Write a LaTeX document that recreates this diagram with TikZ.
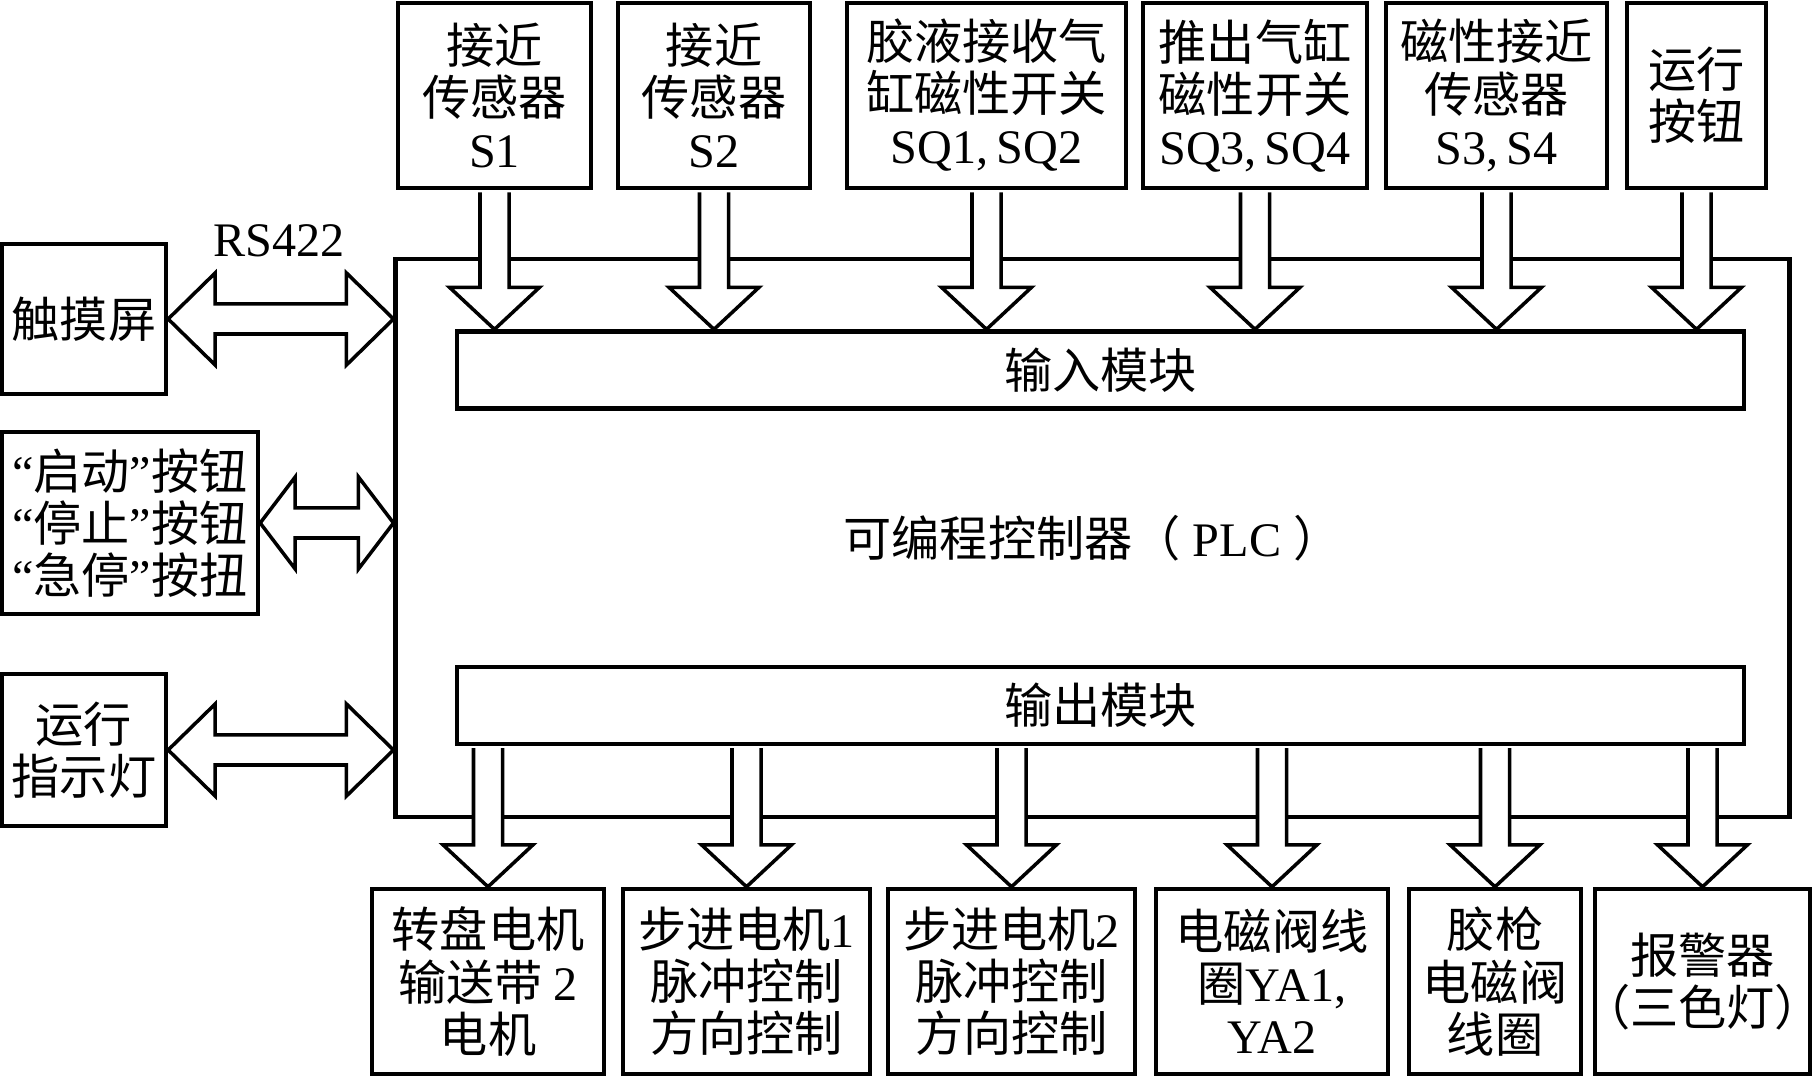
\documentclass[tikz,border=0pt]{standalone}
\usepackage{fontspec}
\setmainfont{Liberation Serif}
\newfontfamily\cjk{Noto Sans CJK SC}
\usetikzlibrary{calc}
\newcommand{\lat}[1]{{\rmfamily #1}}
\newcommand{\quoted}[1]{\lat{“}#1\lat{”}}
\tikzset{every node/.style={rectangle,draw,line width=1.2pt,inner sep=0pt,align=center}}
\tikzset{bx/.style={minimum height=1.85cm}}
\tikzset{md/.style={minimum width=12.87cm,minimum height=0.77cm}}
\tikzset{t/.style={draw=none}}
\tikzset{dn/.style={draw,fill=white,line width=1pt,to path={let \p1=(\tikztostart),\p2=(\tikztotarget) in
  (\x1-0.145cm,\y1-0.6pt) -- (\x1-0.145cm,\y2+0.42cm) -- (\x1-0.45cm,\y2+0.42cm) -- (\x1,\y2)
  -- (\x1+0.45cm,\y2+0.42cm) -- (\x1+0.145cm,\y2+0.42cm) -- (\x1+0.145cm,\y1-0.6pt)}}}
\tikzset{lr/.style={draw,fill=white,line width=1pt,to path={let \p1=(\tikztostart),\p2=(\tikztotarget) in
  (\x1,\y1) -- (\x1+#1,\y1+0.46cm) -- (\x1+#1,\y1+0.15cm) -- (\x2-#1,\y1+0.15cm) -- (\x2-#1,\y1+0.46cm)
  -- (\x2,\y1) -- (\x2-#1,\y1-0.46cm) -- (\x2-#1,\y1-0.15cm) -- (\x1+#1,\y1-0.15cm) -- (\x1+#1,\y1-0.46cm) -- cycle}},
  lr/.default=0.47cm}

\begin{document}
\begin{tikzpicture}[x=0.01cm,y=-0.01cm,font=\cjk\fontsize{13.7pt}{14.8pt}\selectfont]
  \useasboundingbox (0,0) rectangle (1814,1077);
  % controller
  \node[minimum width=13.93cm,minimum height=5.58cm] (plc) at (1092.5,538) {可编程控制器（\lat{\ PLC\ }）};
  \node[md] (in) at (1100.5,370) {输入模块};
  \node[md] (out) at (1100.5,705.5) {输出模块};
  % inputs
  \node[bx,minimum width=1.93cm] (s1) at (494.5,95.5) {接近\\传感器\\\lat{S1}};
  \node[bx,minimum width=1.92cm] (s2) at (714,95.5) {接近\\传感器\\\lat{S2}};
  \node[bx,minimum width=2.79cm] (sq12) at (986.5,95.5) {胶液接收气\\缸磁性开关\\\lat{SQ1,\,SQ2}};
  \node[bx,minimum width=2.24cm] (sq34) at (1255,95.5) {推出气缸\\磁性开关\\\lat{SQ3,\,SQ4}};
  \node[bx,minimum width=2.21cm] (s34) at (1496.5,95.5) {磁性接近\\传感器\\\lat{S3,\,S4}};
  \node[bx,minimum width=1.39cm] (run) at (1696.5,95.5) {运行\\按钮};
  % outputs
  \node[bx,minimum width=2.32cm] (m1) at (488,981.5) {转盘电机\\输送带 \lat{2}\\电机};
  \node[bx,minimum width=2.47cm] (m2) at (746.5,981.5) {步进电机\lat{1}\\脉冲控制\\方向控制};
  \node[bx,minimum width=2.47cm] (m3) at (1011.5,981.5) {步进电机\lat{2}\\脉冲控制\\方向控制};
  \node[bx,minimum width=2.32cm] (ya) at (1272,981.5) {电磁阀线\\圈\lat{YA1,}\\\lat{YA2}};
  \node[bx,minimum width=1.72cm] (gun) at (1495,981.5) {胶枪\\电磁阀\\线圈};
  \node[bx,minimum width=2.15cm] (alarm) at (1702.5,981.5) {报警器\\\makebox[1.95cm]{（三色灯）}};
  % left side
  \node[minimum width=1.64cm,minimum height=1.5cm] (touch) at (84,319) {触摸屏};
  \node[minimum width=2.56cm,minimum height=1.82cm] (keys) at (130,523) {\quoted{启动}按钮\\\quoted{停止}按钮\\\quoted{急停}按扭};
  \node[minimum width=1.64cm,minimum height=1.52cm] (lamp) at (84,750) {运行\\指示灯};
  \node[t] (rs) at (279,241) {\lat{RS422}};
  % arrows
  \draw[lr] (touch.east) to (plc.west);
  \draw[lr=0.35cm] (keys.east) to (plc.west);
  \draw[lr] (lamp.east) to (plc.west);
  \draw[dn] (s1.south) to (in.north);
  \draw[dn] (s2.south) to (in.north);
  \draw[dn] (sq12.south) to (in.north);
  \draw[dn] (sq34.south) to (in.north);
  \draw[dn] (s34.south) to (in.north);
  \draw[dn] (run.south) to (in.north);
  \draw[dn] (m1.north |- out.south) to (m1.north);
  \draw[dn] (m2.north |- out.south) to (m2.north);
  \draw[dn] (m3.north |- out.south) to (m3.north);
  \draw[dn] (ya.north |- out.south) to (ya.north);
  \draw[dn] (gun.north |- out.south) to (gun.north);
  \draw[dn] (alarm.north |- out.south) to (alarm.north);
\end{tikzpicture}
\end{document}
